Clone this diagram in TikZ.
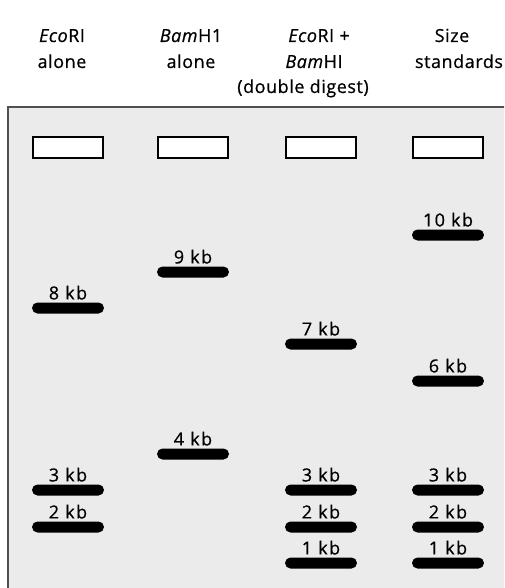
\documentclass[tikz,border=0pt]{standalone}
\usepackage{fontspec}
\setmainfont{Open Sans}[LetterSpace=3, FakeBold=0.6]
\newfontfamily\kbfont{Open Sans}[LetterSpace=8, FakeBold=0.6]
\usetikzlibrary{positioning}
\definecolor{gelgray}{HTML}{EBEBEB}
\definecolor{gelline}{HTML}{505050}

\begin{document}
\begin{tikzpicture}[
  x=1pt, y=-1pt,
  head/.style={anchor=base, inner sep=0pt, font=\fontsize{18}{22}\selectfont},
  well/.style={draw, line width=2pt, fill=white, minimum width=70pt, minimum height=21pt, inner sep=0pt},
  band/.style={fill=black, rounded corners=5.5pt, minimum width=72pt, minimum height=11pt, inner sep=0pt},
  kb/.style={font=\kbfont\fontsize{18}{18}\selectfont, inner sep=0pt, above=2.5pt of #1}
]
\clip (0,0) rectangle (504,588);

% Gel
\draw[gelline, line width=2pt, fill=gelgray] (8,600) -- (8,107) -- (520,107) -- (520,600);

% Lane headings
\node[head] (hecori) at (62,42) {\textit{Eco}RI};
\node[head] (hecorib) at (62,68) {alone};
\node[head] (hbamhi) at (191,42) {\textit{Bam}H1};
\node[head] (hbamhib) at (191,68) {alone};
\node[head] (hdouble) at (319,42) {\textit{Eco}RI +};
\node[head] (hdoubleb) at (314,68) {\textit{Bam}HI};
\node[head] (hdigest) at (303,93) {(double digest)};
\node[head] (hsize) at (452,42) {Size};
\node[head] (hsizeb) at (459,68) {standards};

% Wells
\node[well] (well1) at (68,148) {};
\node[well] (well2) at (193,148) {};
\node[well] (well3) at (321,148) {};
\node[well] (well4) at (448,148) {};

% EcoRI alone
\node[band] (e8) at (68,308) {};
\node[band] (e3) at (68,490) {};
\node[band] (e2) at (68,527) {};
\node[kb=e8] (e8l) {8 kb};
\node[kb=e3] (e3l) {3 kb};
\node[kb=e2] (e2l) {2 kb};

% BamHI alone
\node[band] (b9) at (193,272) {};
\node[band] (b4) at (193,454) {};
\node[kb=b9] (b9l) {9 kb};
\node[kb=b4] (b4l) {4 kb};

% Double digest
\node[band] (d7) at (321,344) {};
\node[band] (d3) at (321,490) {};
\node[band] (d2) at (321,527) {};
\node[band] (d1) at (321,563) {};
\node[kb=d7] (d7l) {7 kb};
\node[kb=d3] (d3l) {3 kb};
\node[kb=d2] (d2l) {2 kb};
\node[kb=d1] (d1l) {1 kb};

% Size standards
\node[band] (s10) at (448,235) {};
\node[band] (s6) at (448,381) {};
\node[band] (s3) at (448,490) {};
\node[band] (s2) at (448,527) {};
\node[band] (s1) at (448,563) {};
\node[kb=s10] (s10l) {10 kb};
\node[kb=s6] (s6l) {6 kb};
\node[kb=s3] (s3l) {3 kb};
\node[kb=s2] (s2l) {2 kb};
\node[kb=s1] (s1l) {1 kb};

\end{tikzpicture}
\end{document}
